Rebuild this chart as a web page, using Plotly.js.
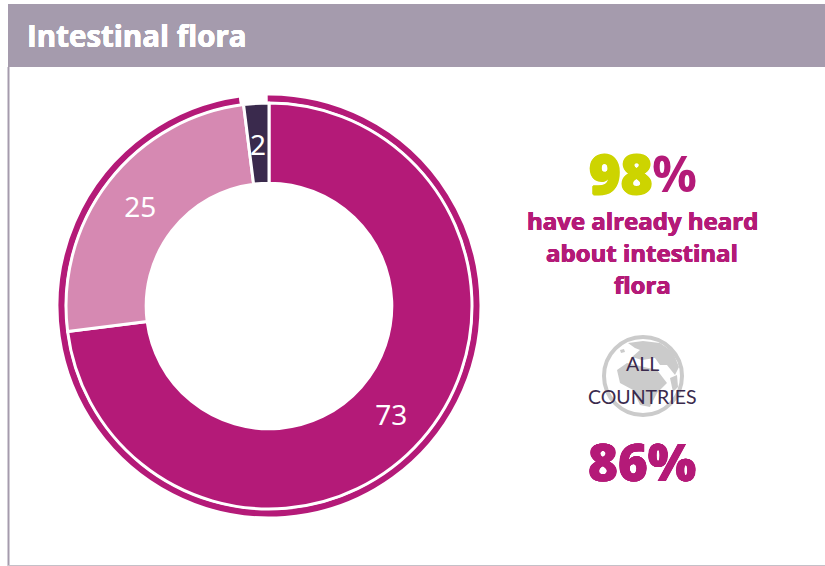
<!DOCTYPE html>
<html>
<head>
<meta charset="utf-8">
<script src="https://cdn.plot.ly/plotly-3.0.1.min.js"></script>
<style>html,body{margin:0;padding:0;background:#fff}#chart{width:825px;height:566px}</style>
</head>
<body>
<div id="chart"></div>
<script>
const W = 825, H = 566;

// Survey answers shown in the donut
const categories = ['Yes, know what it is', 'Heard of it only', 'Never heard of it'];
const shares = [73, 25, 2];
const sliceColors = ['#B41A78', '#D689B2', '#3A2A4D'];

// Outer ring: share who have already heard about it
const ringParts = ['Already heard', 'Rest'];
const ringValues = [98, 2];
const heardShare = '98';
const allCountriesShare = '86%';

const MAGENTA = '#B41A78', LIME = '#CDD400', PLUM = '#3A2A4D', HEADER = '#A59BAD', GLOBE = '#CBCBCB';
const HEAVY = '"Open Sans", "Noto Sans", sans-serif';
const BODY = '"Noto Sans", "Open Sans", sans-serif';
const SLIM = 'Lato, sans-serif';

const px = x => x / W;
const py = y => 1 - y / H;
const cx = 269, cy = 306;

function domainFor(r) {
  return {x: [px(cx - r), px(cx + r)], y: [py(cy + r), py(cy - r)]};
}

const traces = [
  {
    type: 'pie', labels: ringParts, values: ringValues, sort: false, direction: 'clockwise', rotation: -0.7,
    hole: 0.96, domain: domainFor(211.5), textinfo: 'none', hoverinfo: 'skip', showlegend: false,
    marker: {colors: [MAGENTA, 'rgba(255,255,255,0)'], line: {color: '#fff', width: 2}}
  },
  {
    type: 'pie', labels: categories, values: shares, sort: false, direction: 'clockwise', rotation: 0,
    hole: 0.605, domain: domainFor(203), showlegend: false,
    textinfo: 'value', textposition: ['inside', 'inside', 'none'], insidetextorientation: 'horizontal',
    insidetextfont: {family: BODY, size: 28, color: '#fff'},
    marker: {colors: sliceColors, line: {color: '#fff', width: 3}}
  }
];

// Simplified continents inside the globe badge
const globeCx = 643, globeCy = 376, globeR = 39;
const land = [
  'M 628 343 L 643 341 L 660 343 L 673 352 L 679 367 L 675 375 L 667 365 L 660 365 L 655 358 L 642 360 L 632 357 L 640 350 L 635 348 Z',
  'M 617 370 L 627 363 L 657 370 L 667 383 L 657 393 L 650 407 L 640 405 L 633 390 L 620 383 Z',
  'M 670 378 L 677 375 L 678 387 L 673 392 Z',
  'M 620 350 L 624 349 L 625 352 L 621 353 Z'
];

const shapes = [
  {type: 'rect', xref: 'paper', yref: 'paper', x0: px(8), x1: 1, y0: py(67), y1: py(4), fillcolor: HEADER, line: {width: 0}, layer: 'below'},
  {type: 'line', xref: 'paper', yref: 'paper', x0: px(8.5), x1: px(8.5), y0: 0, y1: py(67), line: {color: HEADER, width: 2}, layer: 'below'},
  {type: 'line', xref: 'paper', yref: 'paper', x0: px(8), x1: 1, y0: py(565.5), y1: py(565.5), line: {color: '#C4C0C8', width: 1}, layer: 'below'},
  {type: 'circle', xref: 'paper', yref: 'paper', x0: px(globeCx - globeR), x1: px(globeCx + globeR), y0: py(globeCy + globeR), y1: py(globeCy - globeR), fillcolor: '#fff', line: {color: GLOBE, width: 4}, layer: 'below'}
];

// Continent outlines are given in pixels and converted to paper units
land.forEach(d => {
  const path = d.replace(/(\d+) (\d+)/g, (m, a, b) => px(+a).toFixed(5) + ',' + py(+b).toFixed(5));
  shapes.push({type: 'path', xref: 'paper', yref: 'paper', path, fillcolor: GLOBE, line: {width: 0}, layer: 'below'});
});

// Thickens a heavy label beyond the font's own weight with a tight outline of its own colour
function outline(color, d) {
  return `${d}px 0 0 ${color}, -${d}px 0 0 ${color}, 0 ${d}px 0 ${color}, 0 -${d}px 0 ${color}`;
}

function note(text, x, y, size, color, weight, family, thicken) {
  const font = {family: family || HEAVY, size, color, weight: weight || 400};
  if (thicken) font.shadow = outline(color, thicken);
  return {xref: 'paper', yref: 'paper', x: px(x), y: py(y), xanchor: 'center', yanchor: 'middle', showarrow: false, text, font};
}

const annotations = [
  Object.assign(note('Intestinal flora', 25, 35, 29.5, '#fff', 700, HEAVY, 0.3), {xanchor: 'left'}),
  note(heardShare, 620, 173, 54, LIME, 800, HEAVY, 1),
  note('%', 674, 173, 50, MAGENTA, 700),
  note('have already heard', 642, 220, 24, MAGENTA, 700, HEAVY, 0.4),
  note('about intestinal', 642, 252, 24, MAGENTA, 700, HEAVY, 0.4),
  note('flora', 642, 284, 24, MAGENTA, 700, HEAVY, 0.4),
  note('ALL', 642, 363, 19.5, PLUM, 400, SLIM),
  note('COUNTRIES', 642, 396, 19.5, PLUM, 400, SLIM),
  note(allCountriesShare, 642, 461, 51, MAGENTA, 800, HEAVY, 0.4),
  note(String(shares[2]), 258, 144, 28, '#fff', 400, BODY)
];

Plotly.newPlot('chart', traces, {
  width: W, height: H, margin: {l: 0, r: 0, t: 0, b: 0},
  paper_bgcolor: '#fff', plot_bgcolor: '#fff', showlegend: false,
  shapes, annotations
}, {displayModeBar: false, staticPlot: true});
</script>
</body>
</html>
